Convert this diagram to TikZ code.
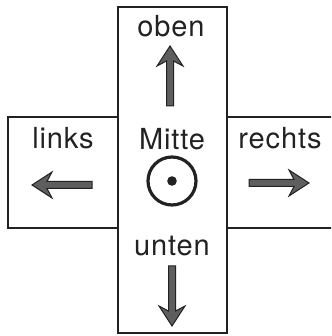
\documentclass[tikz,border=0pt]{standalone}
\usepackage{fontspec}
\newfontfamily\lblfont{TeX Gyre Heros}[LetterSpace=3]
\definecolor{ink}{HTML}{222222}
\definecolor{arrowfill}{HTML}{5E5E5E}
\tikzset{
  lbl/.style={font=\lblfont\fontsize{29}{34}\selectfont, text=ink, anchor=base, inner sep=0pt},
  boxline/.style={draw=ink, line width=1.3pt},
  bigarrow/.pic={
    \filldraw[fill=arrowfill, draw=ink, line width=1pt, line join=miter]
      (0,0) -- (-20,13) -- (-15,3.5) -- (-60,3.5) -- (-60,-3.5) -- (-15,-3.5) -- (-20,-13) -- cycle;
  }
}
\begin{document}
\begin{tikzpicture}[x=1pt,y=1pt]
\useasboundingbox (0,0) rectangle (331,336);
\clip (0,0) rectangle (331,336);
% boxes
\draw[boxline] (118,3) rectangle (227,329);
\draw[boxline] (8,108) rectangle (118,219);
\draw[boxline] (227,219) -- (340,219);
\draw[boxline] (227,108) -- (340,108);
% labels
\node[lbl] (oben) at (171,299) {oben};
\node[lbl] (mitte) at (172,186) {Mitte};
\node[lbl] (links) at (63,187) {links};
\node[lbl] (rechts) at (280,187) {rechts};
\node[lbl] (unten) at (172,80) {unten};
% arrows
\pic[rotate=90] at (170,290) {bigarrow};
\pic[rotate=180] at (32,151) {bigarrow};
\pic at (309,153) {bigarrow};
\pic[rotate=-90] at (172,10) {bigarrow};
% centre symbol
\draw[ink, line width=3.2pt] (172,155) circle (24);
\fill[ink] (172,155) circle (4.8);
\end{tikzpicture}
\end{document}
